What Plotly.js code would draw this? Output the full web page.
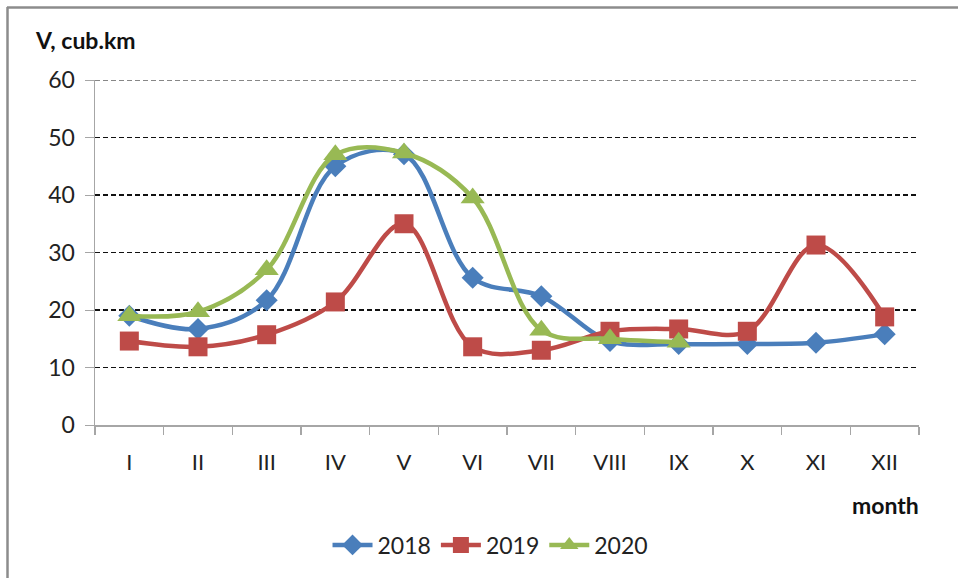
<!DOCTYPE html>
<html>
<head>
<meta charset="utf-8">
<script src="https://cdn.plot.ly/plotly-3.0.1.min.js"></script>
<style>html,body{margin:0;padding:0;background:#fff;}#chart{width:958px;height:578px;}</style>
</head>
<body>
<div id="chart"></div>
<script>
const months = ["I","II","III","IV","V","VI","VII","VIII","IX","X","XI","XII"];
const v2018 = [19.0, 16.7, 21.7, 45.0, 47.1, 25.6, 22.4, 14.6, 14.1, 14.1, 14.3, 15.8];
const v2019 = [14.6, 13.6, 15.7, 21.4, 35.0, 13.6, 13.0, 16.3, 16.7, 16.3, 31.3, 18.8];
const months2020 = ["I","II","III","IV","V","VI","VII","VIII","IX"];
const v2020 = [19.0, 19.7, 27.0, 47.0, 47.3, 39.5, 16.5, 15.0, 14.4];
const yTicks = [0, 10, 20, 30, 40, 50, 60];
const yMax = 60;

const FONT = "Lato, 'Open Sans', sans-serif";
function tr(name, x, y, color, symbol, size) {
  return {
    type: "scatter", mode: "lines+markers", name: name, x: x, y: y,
    line: {color: color, width: 4.5, shape: "spline", smoothing: 1},
    marker: {symbol: symbol, size: size, color: color},
    cliponaxis: false
  };
}
const data = [
  tr("2018", months, v2018, "#4A7EBB", "diamond", 17),
  tr("2019", months, v2019, "#BE4B48", "square", 19),
  tr("2020", months2020, v2020, "#98B954", "triangle-up", 21)
];
const L = 95, R = 919, T = 80, B = 425;
const px = x => (x - L) / (R - L);
const py = y => (B - y) / (B - T);
const layout = {
  width: 958, height: 578,
  margin: {l: L, r: 958 - R, t: T, b: 578 - B},
  paper_bgcolor: "#fff", plot_bgcolor: "#fff",
  font: {family: FONT, size: 22, color: "#222"},
  showlegend: true,
  legend: {orientation: "h", x: 0.48, xanchor: "center", y: py(545), yanchor: "middle",
    font: {family: FONT, size: 23, color: "#222"}, itemwidth: 40, tracegroupgap: 0},
  xaxis: {
    type: "category", categoryarray: months, categoryorder: "array",
    range: [-0.5, 11.5], showgrid: false, zeroline: false,
    showline: true, linecolor: "#A6A6A6", linewidth: 1.5,
    ticks: "outside", tickson: "boundaries", ticklen: 8, tickcolor: "#A6A6A6", tickwidth: 1.5,
    ticklabelstandoff: 17,
    tickfont: {family: FONT, size: 22, color: "#222"}
  },
  yaxis: {
    range: [0, yMax], tickvals: yTicks, ticktext: yTicks.map(String),
    showgrid: true, gridcolor: "#111", griddash: "5px,3px", gridwidth: 1.2,
    zeroline: false, showline: true, linecolor: "#A6A6A6", linewidth: 1.5,
    ticks: "outside", ticklen: 9, tickcolor: "#A6A6A6", tickwidth: 1,
    ticklabelstandoff: 5,
    tickfont: {family: FONT, size: 23, color: "#222"}
  },
  annotations: [
    {xref: "paper", yref: "paper", x: px(33), y: py(40), xanchor: "left", yanchor: "middle",
     text: "<b>V, cub.km</b>", showarrow: false, font: {family: FONT, size: 23, color: "#111"}},
    {xref: "paper", yref: "paper", x: px(921), y: py(505), xanchor: "right", yanchor: "middle",
     text: "<b>month</b>", showarrow: false, font: {family: FONT, size: 23, color: "#111"}}
  ],
  shapes: [
    {type: "line", xref: "paper", yref: "y", x0: 0, x1: 1, y0: yMax, y1: yMax, layer: "below",
     line: {color: "#111", width: 1.2, dash: "5px,3px"}},
    {type: "line", xref: "paper", yref: "paper", x0: px(7), x1: px(960), y0: py(7.5), y1: py(7.5),
     line: {color: "#8C8C8C", width: 2.5}},
    {type: "line", xref: "paper", yref: "paper", x0: px(7.5), x1: px(7.5), y0: py(7), y1: py(580),
     line: {color: "#8C8C8C", width: 2.5}}
  ]
};
Plotly.newPlot("chart", data, layout, {displayModeBar: false, staticPlot: true});
</script>
</body>
</html>
